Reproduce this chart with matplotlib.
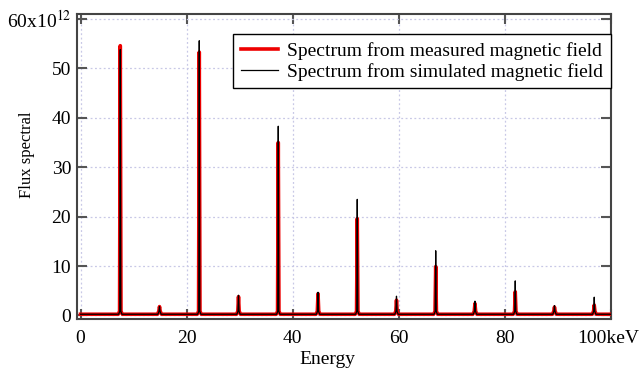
import matplotlib
matplotlib.use("Agg")
import matplotlib.pyplot as plt
import matplotlib.transforms as mtransforms
import numpy as np

plt.rcParams["font.family"] = ["Liberation Serif", "DejaVu Serif"]
plt.rcParams["mathtext.fontset"] = "stix"

# peak positions (keV) and peak heights (x1e12)
peak_energy = [7.5, 14.9, 22.4, 29.8, 37.3, 44.8, 52.2, 59.6, 67.0, 74.4, 82.0, 89.4, 96.9]
measured_peak = [54.6, 1.8, 53.3, 3.8, 35.0, 4.4, 19.6, 3.1, 9.9, 2.4, 4.8, 1.7, 2.1]
simulated_peak = [53.8, 1.8, 55.6, 4.1, 38.3, 4.7, 23.5, 3.9, 13.1, 2.9, 7.0, 2.0, 3.7]
baseline = 0.25
energy_range = [0.0, 100.0]

x_ticks = [0, 20, 40, 60, 80, 100]
x_ticklabels = ["0", "20", "40", "60", "80", "100keV"]
y_ticks = [0, 10, 20, 30, 40, 50, 60]
y_ticklabels = ["0", "10", "20", "30", "40", "50", r"60x10$^{12}$"]


def spectrum(energies, heights, half_width):
    xs = [energy_range[0]]
    ys = [baseline]
    for e, h in zip(energies, heights):
        xs += [e - 3 * half_width, e - half_width, e, e + half_width, e + 3 * half_width]
        ys += [baseline, baseline + 0.6, h, baseline + 0.6, baseline]
    xs.append(energy_range[1])
    ys.append(baseline)
    return np.array(xs), np.array(ys)


fig = plt.figure(figsize=(6.4, 3.7), dpi=100)
ax = fig.add_axes([0.120, 0.138, 0.835, 0.824])

xm, ym = spectrum(peak_energy, measured_peak, 0.13)
xs, ys = spectrum(peak_energy, simulated_peak, 0.10)
ax.plot(xm, ym, color="#ee0000", lw=2.6, label="Spectrum from measured magnetic field", zorder=3)
ax.plot(xs, ys, color="black", lw=0.9, label="Spectrum from simulated magnetic field", zorder=4)

ax.set_xlim(-0.7, 100.1)
ax.set_ylim(-0.7, 61.0)
ax.set_xticks(x_ticks)
ax.set_xticklabels(x_ticklabels)
ax.set_yticks(y_ticks)
ax.set_yticklabels(y_ticklabels)
ax.tick_params(direction="in", length=7, width=1.5, color="#555555",
               top=True, right=True, labelsize=14, pad=4)
ax.tick_params(axis="x", pad=8)
ax.grid(True, color="#c8c8e6", linestyle=(0, (1.5, 2)), linewidth=0.9)
for s in ax.spines.values():
    s.set_color("#444444")
    s.set_linewidth(1.5)

# keep "100keV" inside the figure edge
last = ax.get_xticklabels()[-1]
last.set_transform(last.get_transform() + mtransforms.ScaledTranslation(-2 / 72, 0, fig.dpi_scale_trans))

ax.set_xlabel("Energy", fontsize=14, labelpad=3)
ax.xaxis.label.set_x(0.468)
ax.set_ylabel("Flux spectral", fontsize=12)
ax.yaxis.set_label_coords(-0.078, 0.54)

leg = ax.legend(loc="upper right", bbox_to_anchor=(1.0, 0.934), borderaxespad=0,
                fontsize=14, frameon=True, fancybox=False, edgecolor="black",
                framealpha=1, handlelength=1.9, handletextpad=0.5,
                borderpad=0.4, labelspacing=0.15)
leg.get_frame().set_linewidth(1.0)

fig.savefig("out.png", dpi=100)
